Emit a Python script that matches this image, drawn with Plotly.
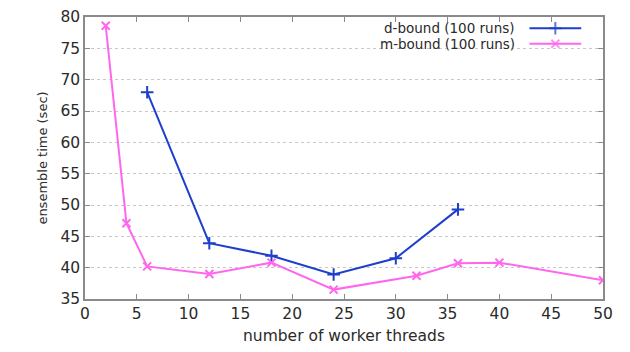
import plotly.graph_objects as go

# Ensemble time vs. number of worker threads
d_threads = [6, 12, 18, 24, 30, 36]
d_time = [68.0, 43.9, 41.9, 38.9, 41.5, 49.3]
m_threads = [2, 4, 6, 12, 18, 24, 32, 36, 40, 50]
m_time = [78.6, 47.1, 40.2, 39.0, 40.8, 36.5, 38.7, 40.7, 40.8, 38.0]
series_names = ["d-bound (100 runs)", "m-bound (100 runs)"]
x_ticks = [0, 5, 10, 15, 20, 25, 30, 35, 40, 45, 50]
y_ticks = [35, 40, 45, 50, 55, 60, 65, 70, 75, 80]

BLUE = "#1e3fcc"
PINK = "#ff66ee"
FONT = "DejaVu Sans"
TEXT = "#2a2a2a"
AXIS_COLOR = "#8a8a8a"

fig = go.Figure()
fig.add_trace(go.Scatter(
    x=d_threads, y=d_time, mode="lines+markers", name=series_names[0],
    line=dict(color=BLUE, width=2),
    marker=dict(symbol="cross-thin", size=9, line=dict(color=BLUE, width=2)),
    showlegend=False,
))
fig.add_trace(go.Scatter(
    x=m_threads, y=m_time, mode="lines+markers", name=series_names[1],
    line=dict(color=PINK, width=2),
    marker=dict(symbol="x-thin", size=8, line=dict(color=PINK, width=2)),
    showlegend=False,
))

# Key drawn on an overlay axis so the sample sits right of its label
key_rows = [0.96, 0.905]
for name, color, sym, size, yk in [
    (series_names[0], BLUE, "cross-thin", 9, key_rows[0]),
    (series_names[1], PINK, "x-thin", 8, key_rows[1]),
]:
    fig.add_trace(go.Scatter(
        x=[0.858, 0.908, 0.958], y=[yk, yk, yk], xaxis="x2", yaxis="y2",
        mode="lines+markers", line=dict(color=color, width=2),
        marker=dict(symbol=sym, size=[0, size, 0],
                    line=dict(color=color, width=2)),
        showlegend=False, hoverinfo="skip",
    ))
    fig.add_annotation(
        x=0.834, y=yk, xref="x2", yref="y2", text=name, showarrow=False,
        xanchor="right", yanchor="middle",
        font=dict(family=FONT, size=13.5, color=TEXT),
    )

fig.update_layout(
    width=630, height=352,
    margin=dict(l=85, r=27, t=8, b=53),
    paper_bgcolor="white", plot_bgcolor="white",
    font=dict(family=FONT, color=TEXT),
    xaxis=dict(
        range=[0, 50], tickvals=x_ticks, showgrid=False, zeroline=False,
        showline=True, linecolor=AXIS_COLOR, linewidth=1.5, mirror="ticks",
        ticks="inside", ticklen=5, tickcolor=AXIS_COLOR,
        tickfont=dict(size=15.5, family=FONT, color=TEXT),
        title=dict(text="number of worker threads",
                   font=dict(size=15.5, family=FONT, color=TEXT), standoff=8),
    ),
    yaxis=dict(
        range=[35, 80], tickvals=y_ticks, showgrid=True, gridcolor="#c8c8c8",
        griddash="dot", gridwidth=1, zeroline=False,
        showline=True, linecolor=AXIS_COLOR, linewidth=1.5, mirror="ticks",
        ticks="inside", ticklen=5, tickcolor=AXIS_COLOR,
        tickfont=dict(size=15.5, family=FONT, color=TEXT),
        title=dict(text="ensemble time (sec)",
                   font=dict(size=13, family=FONT, color=TEXT), standoff=10),
    ),
    xaxis2=dict(range=[0, 1], overlaying="x", visible=False, fixedrange=True),
    yaxis2=dict(range=[0, 1], overlaying="y", visible=False, fixedrange=True),
)

fig.write_html("out.html")
